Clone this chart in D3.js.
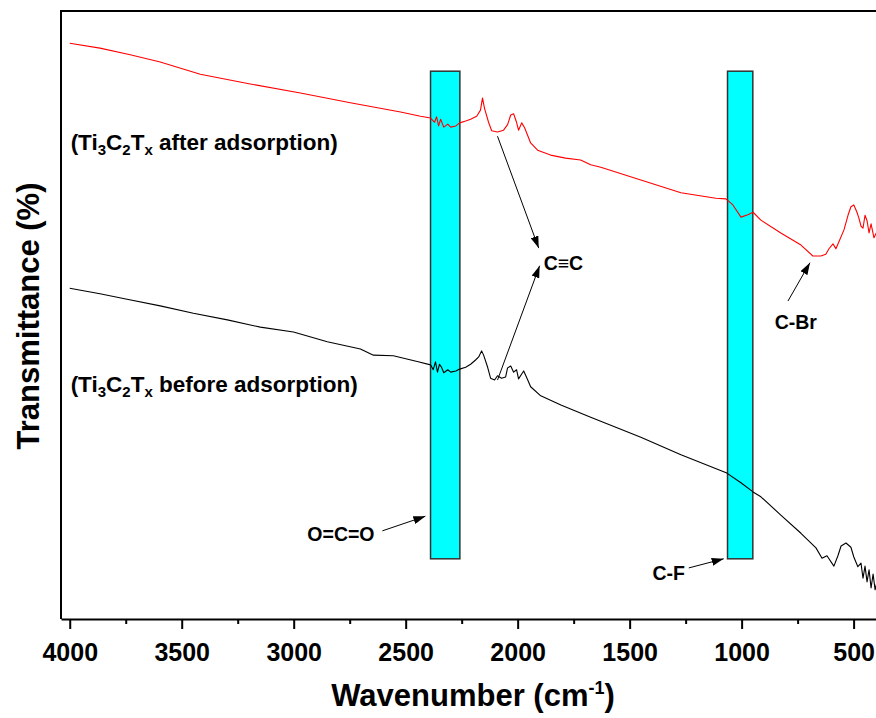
<!DOCTYPE html>
<html>
<head>
<meta charset="utf-8">
<script src="https://cdn.jsdelivr.net/npm/d3@7"></script>
<style>
    body { margin: 0; background: #fff; }
    #chart { width: 876px; height: 718px; }
    text { font-family: "Liberation Sans", Arial, sans-serif; font-weight: bold; }
</style>
</head>
<body>
<div id="chart"></div>
<script>
// wavenumber (cm-1) and transmittance (a.u.)
const afterWave = [4000, 3865, 3730, 3596, 3417, 3194, 2970, 2747, 2523, 2434, 2389, 2371, 2362, 2353, 2344, 2330, 2312, 2299, 2276, 2259, 2232, 2210, 2183, 2166, 2157, 2148, 2130, 2116, 2090, 2063, 2045, 2031, 2018, 2005, 1996, 1982, 1969, 1942, 1911, 1853, 1786, 1719, 1674, 1629, 1450, 1271, 1115, 1070, 1039, 1003, 972, 949, 914, 825, 735, 682, 646, 624, 610, 592, 579, 566, 543, 525, 512, 499, 485, 476, 467, 458, 449, 440, 431, 422, 409, 396];
const afterT = [94.7, 93.9, 92.8, 91.6, 89.6, 88.0, 86.5, 84.9, 83.4, 82.7, 82.4, 81.7, 82.6, 81.1, 82.2, 80.9, 81.4, 80.9, 81.1, 81.6, 81.9, 82.2, 82.7, 83.7, 85.7, 84.0, 81.7, 80.3, 80.1, 80.4, 81.3, 82.9, 83.1, 81.7, 80.4, 81.6, 80.8, 78.3, 77.1, 76.3, 75.8, 75.5, 74.7, 74.3, 72.2, 70.1, 69.2, 69.1, 68.1, 66.1, 66.5, 66.9, 65.6, 63.5, 61.5, 59.7, 59.7, 60.0, 60.9, 61.7, 60.9, 62.0, 64.0, 66.4, 67.8, 68.1, 66.9, 65.9, 64.6, 64.3, 66.4, 65.5, 63.5, 65.0, 62.7, 63.7];

const beforeWave = [4000, 3865, 3744, 3596, 3448, 3296, 3149, 3001, 2850, 2702, 2644, 2555, 2444, 2389, 2377, 2367, 2358, 2349, 2340, 2330, 2312, 2299, 2276, 2259, 2232, 2210, 2188, 2174, 2161, 2152, 2134, 2121, 2103, 2090, 2072, 2054, 2045, 2031, 2018, 2005, 1996, 1982, 1973, 1955, 1942, 1897, 1807, 1674, 1450, 1271, 1066, 1003, 949, 914, 825, 735, 668, 641, 619, 588, 570, 556, 534, 512, 499, 481, 467, 458, 449, 440, 431, 422, 413, 404, 396];
const beforeT = [54.4, 53.5, 52.6, 51.5, 50.3, 49.2, 48.0, 47.2, 45.6, 44.4, 43.4, 43.3, 42.3, 41.8, 41.0, 42.3, 40.6, 41.9, 41.4, 40.5, 41.0, 40.6, 40.8, 41.1, 41.4, 41.9, 42.6, 43.1, 44.1, 43.4, 41.4, 39.6, 39.3, 40.0, 39.6, 39.8, 41.3, 41.6, 40.6, 41.0, 39.5, 40.3, 40.8, 39.3, 38.2, 36.7, 35.2, 33.2, 29.9, 27.0, 24.0, 22.4, 20.9, 20.1, 17.1, 14.1, 11.7, 10.0, 10.4, 8.7, 10.4, 12.0, 12.5, 11.8, 10.2, 8.6, 9.2, 6.7, 8.7, 6.1, 8.1, 5.1, 7.4, 4.8, 6.1];

// highlighted bands [from, to] in cm-1 and their vertical extent
const bandRanges = [[2389, 2258], [1063, 950]];
const bandT = [9.9, 90.1];

const xTicks = [4000, 3500, 3000, 2500, 2000, 1500, 1000, 500];
const xMinorTicks = [3750, 3250, 2750, 2250, 1750, 1250, 750];

// annotations: label, label position, arrow start, arrow tip (cm-1, a.u.)
const noteLabels = ["C\u2261C", "C-Br", "O=C=O", "C-F"];
const noteAnchors = ["start", "middle", "end", "end"];
const notePos = [[1884, 57.4], [758, 47.7], [2639, 12.9], [1253, 6.4]];
const noteArrows = [
    [[[2090, 79.4], [1906, 61.0]], [[2090, 39.3], [1902, 58.1]]],
    [[[793, 52.3], [695, 58.6]]],
    [[[2604, 14.5], [2412, 16.9]]],
    [[[1236, 8.4], [1080, 9.9]]]
];

class FtirChart {

    constructor(parentElement) {
        this.parentElement = parentElement;
        this.initVis();
    }

    initVis() {
        let vis = this;

        vis.width = 876;
        vis.height = 718;
        vis.plot = {left: 61, right: 876, top: 11, bottom: 619};

        vis.svg = d3.select("#" + vis.parentElement).append("svg")
            .attr("width", vis.width)
            .attr("height", vis.height);

        vis.svg.append("defs").append("marker")
            .attr("id", "arrow")
            .attr("viewBox", "0 0 12 8")
            .attr("refX", 12)
            .attr("refY", 4)
            .attr("markerWidth", 12)
            .attr("markerHeight", 8)
            .attr("markerUnits", "userSpaceOnUse")
            .attr("orient", "auto")
            .append("path")
            .attr("d", "M0,0 L12,4 L0,8 Z")
            .attr("fill", "#000");

        vis.x = d3.scaleLinear()
            .domain([4039, 400])
            .range([vis.plot.left, vis.plot.right]);

        vis.y = d3.scaleLinear()
            .domain([0, 100])
            .range([vis.plot.bottom, vis.plot.top]);

        vis.wrangleData();
    }

    wrangleData() {
        let vis = this;

        vis.series = [
            {color: "#ff0000", points: afterWave.map((w, i) => [w, afterT[i]])},
            {color: "#000000", points: beforeWave.map((w, i) => [w, beforeT[i]])}
        ];

        vis.notes = noteLabels.map((label, i) => ({
            label: label,
            anchor: noteAnchors[i],
            pos: notePos[i],
            arrows: noteArrows[i]
        }));

        vis.updateVis();
    }

    updateVis() {
        let vis = this;

        // bands
        vis.svg.append("g").selectAll("rect")
            .data(bandRanges)
            .join("rect")
            .attr("x", d => vis.x(d[0]))
            .attr("width", d => vis.x(d[1]) - vis.x(d[0]))
            .attr("y", vis.y(bandT[1]))
            .attr("height", vis.y(bandT[0]) - vis.y(bandT[1]))
            .attr("fill", "#00ffff")
            .attr("stroke", "#333")
            .attr("stroke-width", 1.5);

        // spectra
        let line = d3.line()
            .x(d => vis.x(d[0]))
            .y(d => vis.y(d[1]));

        vis.svg.append("g").selectAll("path")
            .data(vis.series)
            .join("path")
            .attr("d", d => line(d.points))
            .attr("fill", "none")
            .attr("stroke", d => d.color)
            .attr("stroke-width", 1.1)
            .attr("stroke-linejoin", "round");

        // frame (left + top; right side is cut off)
        vis.svg.append("path")
            .attr("d", `M${vis.plot.right},${vis.plot.top} H${vis.plot.left} V${vis.plot.bottom}`)
            .attr("fill", "none")
            .attr("stroke", "#000")
            .attr("stroke-width", 2);

        // x axis
        let xAxis = vis.svg.append("g")
            .attr("transform", `translate(0, ${vis.plot.bottom})`)
            .call(d3.axisBottom(vis.x)
                .tickValues(xTicks)
                .tickFormat(d3.format("d"))
                .tickSize(10)
                .tickSizeOuter(0)
                .tickPadding(14));

        xAxis.select(".domain").attr("stroke-width", 2);
        xAxis.selectAll(".tick line").attr("stroke-width", 2);
        xAxis.selectAll(".tick text")
            .attr("font-size", 25)
            .attr("font-family", "'Liberation Sans', Arial, sans-serif")
            .attr("font-weight", "bold");

        vis.svg.append("g")
            .attr("transform", `translate(0, ${vis.plot.bottom})`)
            .call(d3.axisBottom(vis.x).tickValues(xMinorTicks).tickSize(5).tickFormat(""))
            .call(g => g.select(".domain").remove())
            .selectAll(".tick line").attr("stroke-width", 2);

        // axis titles
        let xTitle = vis.svg.append("text")
            .attr("x", 473)
            .attr("y", 706)
            .attr("text-anchor", "middle")
            .attr("font-size", 31);
        xTitle.append("tspan").text("Wavenumber (cm");
        xTitle.append("tspan").attr("font-size", 18).attr("dy", -12).text("-1");
        xTitle.append("tspan").attr("dy", 12).text(")");

        vis.svg.append("text")
            .attr("transform", "translate(39, 316) rotate(-90)")
            .attr("text-anchor", "middle")
            .attr("font-size", 31)
            .text("Transmittance (%)");

        // curve labels
        let curveLabels = [["after adsorption", 77.1], ["before adsorption", 37.3]];
        curveLabels.forEach(d => {
            let t = vis.svg.append("text")
                .attr("x", vis.x(3996))
                .attr("y", vis.y(d[1]))
                .attr("font-size", 22.5);
            t.append("tspan").text("(Ti");
            t.append("tspan").attr("font-size", 15).attr("dy", 5).text("3");
            t.append("tspan").attr("dy", -5).text("C");
            t.append("tspan").attr("font-size", 15).attr("dy", 5).text("2");
            t.append("tspan").attr("dy", -5).text("T");
            t.append("tspan").attr("font-size", 15).attr("dy", 5).text("x");
            t.append("tspan").attr("dy", -5).text(" " + d[0] + ")");
        });

        // annotations
        let notes = vis.svg.append("g").selectAll("g")
            .data(vis.notes)
            .join("g");

        notes.append("text")
            .attr("x", d => vis.x(d.pos[0]))
            .attr("y", d => vis.y(d.pos[1]))
            .attr("text-anchor", d => d.anchor)
            .attr("font-size", 19.5)
            .text(d => d.label);

        notes.selectAll("line")
            .data(d => d.arrows)
            .join("line")
            .attr("x1", d => vis.x(d[0][0]))
            .attr("y1", d => vis.y(d[0][1]))
            .attr("x2", d => vis.x(d[1][0]))
            .attr("y2", d => vis.y(d[1][1]))
            .attr("stroke", "#000")
            .attr("stroke-width", 1)
            .attr("marker-end", "url(#arrow)");
    }
}

new FtirChart("chart");
</script>
</body>
</html>
